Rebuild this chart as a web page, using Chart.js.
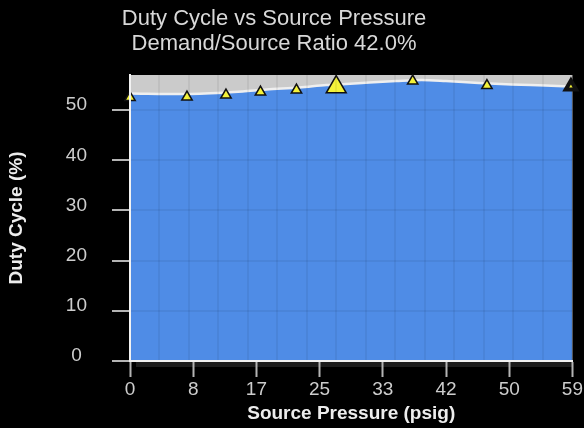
<!DOCTYPE html>
<html lang="en">
<head>
  <meta charset="UTF-8">
  <title>Duty Cycle vs Source Pressure</title>
  <script src="https://cdn.jsdelivr.net/npm/chart.js"></script>
  <style>
    body {
      margin: 0;
      background: #000;
      font-family: 'Liberation Sans', Arial, sans-serif;
    }
    .wrap {
      position: relative;
      width: 584px;
      height: 428px;
    }
    .chart-title {
      position: absolute;
      top: 5px;
      left: 0;
      width: 548px;
      text-align: center;
      color: #d8d8d8;
      font-size: 22px;
      line-height: 25px;
      pointer-events: none;
    }
  </style>
</head>
<body>
  <div class="wrap">
    <div class="chart-title">Duty Cycle vs Source Pressure<br>Demand/Source Ratio 42.0%</div>
    <canvas id="dutyChart" width="584" height="428"></canvas>
  </div>
  <script>
    // x range and tick labels
    const xMax = 59;
    const yMax = 57;
    const xTickLabels = ['0', '8', '17', '25', '33', '42', '50', '59'];
    const gridDivisions = 15;

    // duty cycle curve (fill boundary)
    const curvePressure = [0, 7.0, 12.9, 15.0, 18.2, 22.6, 26.2, 28.8, 31.9, 35.5, 38.9, 42.1, 46.5, 50.9, 55.4, 59];
    const curveDuty     = [53.3, 53.2, 53.5, 53.7, 54.1, 54.5, 55.0, 55.2, 55.5, 55.8, 56.0, 55.8, 55.4, 55.1, 54.9, 54.7];

    // sample points (triangles); the big one is the operating point
    const pointPressure = [0, 7.6, 12.8, 17.4, 22.2, 27.5, 37.7, 47.6, 58.8];
    const pointDuty     = [52.5, 52.6, 53.0, 53.6, 54.0, 54.6, 55.8, 54.9, 54.7];
    const operatingIndex = 5;

    const FONT = "'Liberation Sans', Arial, sans-serif";

    const plotBackground = {
      id: 'plotBackground',
      beforeDatasetsDraw(chart) {
        const { ctx, chartArea: a } = chart;
        ctx.save();
        ctx.fillStyle = '#cbcbcb';
        ctx.fillRect(a.left, a.top, a.right - a.left, a.bottom - a.top);
        // soft shadow under the plot
        ctx.fillStyle = '#1d1d1d';
        ctx.fillRect(a.left + 6, a.bottom, a.right - a.left - 6, 6);
        ctx.restore();
      }
    };

    new Chart(document.getElementById('dutyChart'), {
      type: 'line',
      data: {
        datasets: [
          {
            label: 'Samples',
            order: 0,
            data: pointPressure.map((x, i) => ({ x: x, y: pointDuty[i] })),
            showLine: false,
            pointStyle: 'triangle',
            pointRadius: pointPressure.map((_, i) => i === operatingIndex ? 11.5 : 6),
            pointBorderWidth: pointPressure.map((_, i) => i === pointPressure.length - 1 ? 4 : 1.5),
            pointBackgroundColor: '#f4f23a',
            pointBorderColor: '#111',
            clip: false
          },
          {
            label: 'Duty Cycle',
            order: 1,
            data: curvePressure.map((x, i) => ({ x: x, y: curveDuty[i] })),
            borderColor: '#efefef',
            borderWidth: 2.5,
            backgroundColor: '#4f8ce6',
            fill: 'origin',
            pointRadius: 0,
            cubicInterpolationMode: 'monotone'
          }
        ]
      },
      options: {
        responsive: false,
        animation: false,
        layout: { padding: { top: 75, right: 10, left: 0, bottom: 0 } },
        plugins: {
          legend: { display: false },
          tooltip: { enabled: false }
        },
        scales: {
          x: {
            type: 'linear',
            position: 'bottom',
            min: 0,
            max: xMax,
            afterBuildTicks(scale) {
              scale.ticks = xTickLabels.map((_, i) => ({ value: i * xMax / (xTickLabels.length - 1) }));
            },
            afterFit(scale) { scale.height = 67; },
            grid: {
              drawOnChartArea: false,
              tickLength: 16,
              tickColor: '#b4b4b4',
              tickWidth: 2,
              z: 1
            },
            border: { color: '#f2f2f2', width: 2, z: 2 },
            ticks: {
              color: '#cdcdcd',
              padding: 1,
              maxRotation: 0,
              autoSkip: false,
              font: { family: FONT, size: 19 },
              callback: (v, i) => xTickLabels[i]
            },
            title: {
              display: true,
              text: 'Source Pressure (psig)',
              color: '#ededed',
              font: { family: FONT, size: 19, weight: 'bold' },
              padding: { top: 0, bottom: 3 }
            }
          },
          xg: {
            type: 'linear',
            position: 'top',
            min: 0,
            max: xMax,
            afterBuildTicks(scale) {
              const t = [];
              for (let i = 0; i <= gridDivisions; i++) t.push({ value: i * xMax / gridDivisions });
              scale.ticks = t;
            },
            afterFit(scale) { scale.height = 0; },
            grid: {
              color: 'rgba(0,0,0,0.055)',
              lineWidth: 2,
              drawTicks: false,
              z: 1
            },
            border: { display: false },
            ticks: { display: false }
          },
          y: {
            min: 0,
            max: yMax,
            afterFit(scale) { scale.width = 130; },
            grid: {
              color: 'rgba(0,0,0,0.055)',
              lineWidth: 2,
              tickLength: 18,
              tickColor: '#b4b4b4',
              tickWidth: 2,
              z: 1
            },
            border: { color: '#f2f2f2', width: 2, z: 2 },
            ticks: {
              stepSize: 10,
              includeBounds: false,
              color: '#cdcdcd',
              padding: 25,
              crossAlign: 'center',
              labelOffset: -5,
              font: { family: FONT, size: 19 }
            },
            title: {
              display: true,
              text: 'Duty Cycle (%)',
              color: '#ededed',
              font: { family: FONT, size: 19, weight: 'bold' },
              padding: { top: 5, bottom: 0 }
            }
          }
        }
      },
      plugins: [plotBackground]
    });
  </script>
</body>
</html>
